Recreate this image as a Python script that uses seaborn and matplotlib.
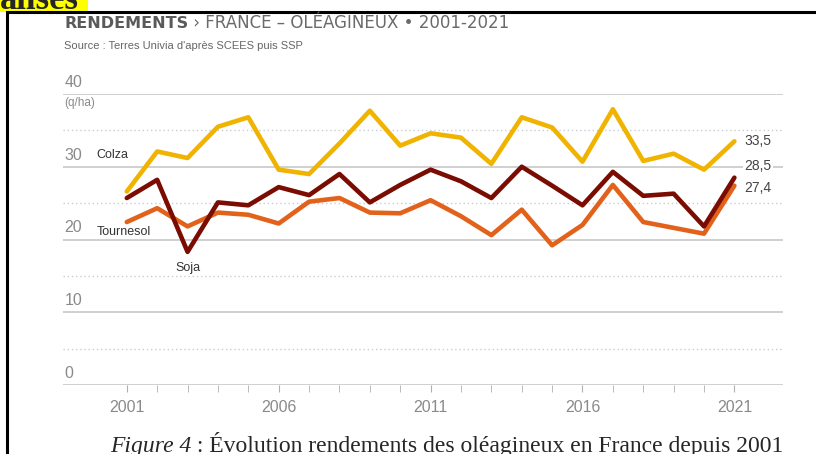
import pandas as pd
import numpy as np
import seaborn as sns
import matplotlib.pyplot as plt
from matplotlib.patches import Rectangle

years = list(range(2001, 2022))
colza = [26.6, 32.1, 31.2, 35.5, 36.8, 29.6, 29.0, 33.2, 37.7, 32.9, 34.6,
         34.0, 30.4, 36.8, 35.4, 30.7, 37.9, 30.8, 31.8, 29.6, 33.5]
soja = [25.7, 28.2, 18.3, 25.1, 24.7, 27.2, 26.1, 29.0, 25.1, 27.5, 29.6,
        28.0, 25.7, 30.0, 27.4, 24.7, 29.3, 26.0, 26.3, 21.8, 28.5]
tournesol = [22.4, 24.3, 21.8, 23.7, 23.4, 22.2, 25.2, 25.7, 23.7, 23.6, 25.4,
             23.2, 20.6, 24.1, 19.2, 22.0, 27.5, 22.4, 21.6, 20.8, 27.4]

couleurs = {'Colza': '#F0B400', 'Soja': '#7A0C02', 'Tournesol': '#E2621B'}
dernier = {'Colza': '33,5', 'Soja': '28,5', 'Tournesol': '27,4'}

df = pd.DataFrame({'annee': years * 3,
                   'rendement': colza + soja + tournesol,
                   'culture': ['Colza'] * 21 + ['Soja'] * 21 + ['Tournesol'] * 21})

sns.set_style('white')
plt.rcParams['font.family'] = ['Liberation Sans', 'DejaVu Sans']

fig = plt.figure(figsize=(8.16, 4.54), dpi=100)
ax = fig.add_axes([63 / 816, (454 - 385) / 454, 720 / 816, 291 / 454])

sns.lineplot(data=df, x='annee', y='rendement', hue='culture', palette=couleurs,
             hue_order=['Colza', 'Tournesol', 'Soja'], linewidth=3.3, legend=False, ax=ax)

ax.set_xlim(1998.9, 2022.6)
ax.set_ylim(0, 40)
for s in ax.spines.values():
    s.set_visible(False)

# horizontal grid: solid every 10, dotted between
for v in [0, 10, 20, 30, 40]:
    ax.axhline(v, color='#c4c4c4', lw=1.1, zorder=0)
    ax.text(1998.95, v + 0.55, str(v), color='#8a8a8a', fontsize=11.5, va='bottom', ha='left')
for v in [5, 15, 25, 35]:
    ax.axhline(v, color='#c8ccd4', lw=1, ls=(0, (1, 2)), zorder=0)
ax.text(1998.95, 38.7, '(q/ha)', color='#8a8a8a', fontsize=8.5, va='center', ha='left')

ax.set_yticks([])
ax.set_xticks(range(2001, 2022, 5))
ax.set_xticks(years, minor=True)
ax.tick_params(axis='x', which='both', direction='out', length=5, color='#b0b0b0',
               bottom=True, labelsize=11.5, labelcolor='#8a8a8a', pad=6)
ax.set_xlabel('')
ax.set_ylabel('')

# series labels
ax.text(2000.0, 31.6, 'Colza', fontsize=9, color='#333333', va='center')
ax.text(2000.0, 21.0, 'Tournesol', fontsize=9, color='#333333', va='center')
ax.text(2002.6, 16.1, 'Soja', fontsize=9, color='#333333', va='center')

# end values
ax.text(2021.33, 33.5, dernier['Colza'], fontsize=10, color='#444444', va='center')
ax.text(2021.33, 30.05, dernier['Soja'], fontsize=10, color='#444444', va='center',
        bbox=dict(facecolor='white', edgecolor='none', pad=1))
ax.text(2021.33, 27.1, dernier['Tournesol'], fontsize=10, color='#444444', va='center')

# titles
base = 1 - 28 / 454
t1 = fig.text(64 / 816, base, 'RENDEMENTS', fontsize=11.5, fontweight='bold',
              color='#5a5a5a', family='DejaVu Sans', va='baseline')
fig.canvas.draw()
x1 = fig.transFigure.inverted().transform(t1.get_window_extent().p1)[0]
fig.text(x1, base, ' › FRANCE – OLÉAGINEUX • 2001-2021', fontsize=12, color='#6a6a6a',
         family='DejaVu Sans', va='baseline')
fig.text(64 / 816, 1 - 46 / 454, "Source : Terres Univia d'après SCEES puis SSP",
         fontsize=8, color='#666666', va='center')

# caption
c1 = fig.text(110 / 816, 1 - 452 / 454, 'Figure 4', fontsize=17, style='italic',
              family='Liberation Serif', va='baseline')
ax.annotate(' : Évolution rendements des oléagineux en France depuis 2001', xy=(1, 0),
            xycoords=c1, va='bottom', fontsize=17, family='Liberation Serif',
            annotation_clip=False)

# frame and highlighted word from page
fig.add_artist(Rectangle((0, 1 - 12 / 454), 88 / 816, 12 / 454, transform=fig.transFigure,
                         facecolor='#ffff00', edgecolor='none'))
fig.text(0, 1 - 9 / 454, 'alisés', fontsize=25, fontweight='bold', family='Liberation Serif',
         va='baseline', ha='left')
fig.add_artist(Rectangle((7 / 816, -0.1), 1.0, 1 - 12 / 454 + 0.1, transform=fig.transFigure,
                         fill=False, edgecolor='black', lw=2.2))

fig.savefig('out.png', dpi=100)
